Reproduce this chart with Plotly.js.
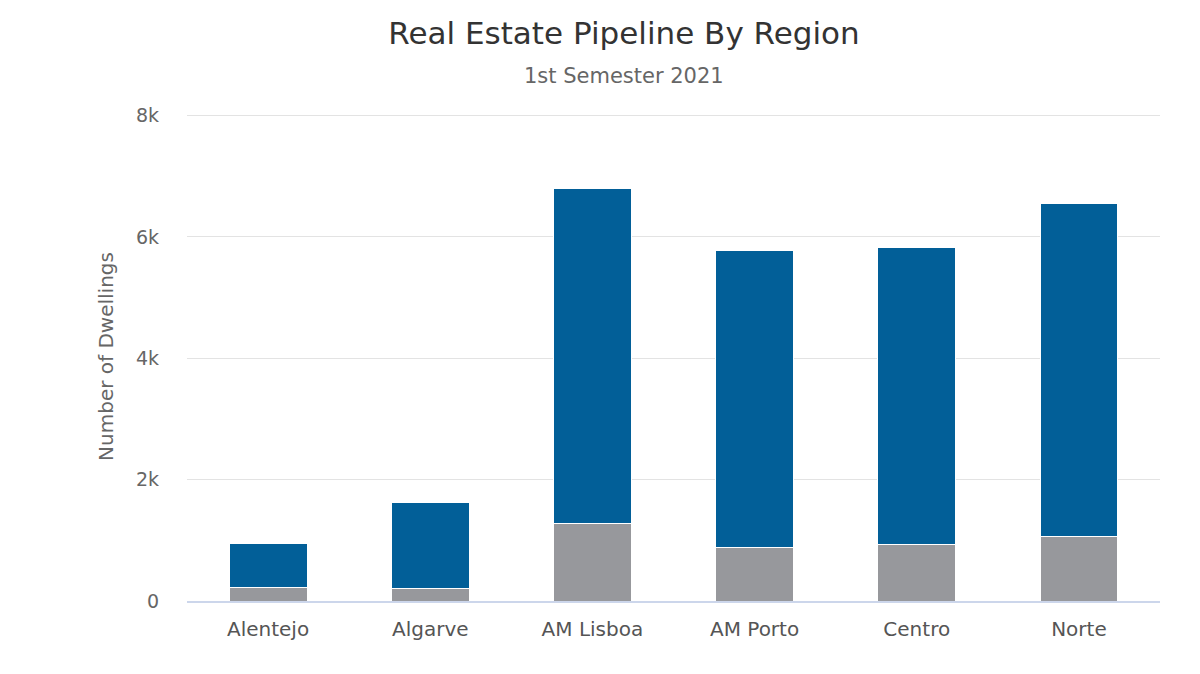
<!DOCTYPE html>
<html>
<head>
<meta charset="utf-8">
<script src="https://cdn.plot.ly/plotly-3.0.1.min.js"></script>
<style>html,body{margin:0;padding:0;background:#fff;}#chart{width:1200px;height:674px;}</style>
</head>
<body>
<div id="chart"></div>
<script>
const regions = ["Alentejo", "Algarve", "AM Lisboa", "AM Porto", "Centro", "Norte"];
const grayValues = [230, 200, 1270, 880, 935, 1065];
const blueValues = [725, 1425, 5530, 4890, 4895, 5495];
const yTickVals = [0, 2000, 4000, 6000, 8000];
const yTickText = ["0", "2k", "4k", "6k", "8k"];

const font = "DejaVu Sans, Verdana, sans-serif";

const traces = [
  {
    type: "bar", x: regions, y: grayValues, name: "Under construction",
    marker: {color: "#97989c", line: {color: "#ffffff", width: 1}},
    hoverinfo: "x+y"
  },
  {
    type: "bar", x: regions, y: blueValues, name: "Licensed",
    marker: {color: "#025f98", line: {color: "#ffffff", width: 1}},
    hoverinfo: "x+y"
  }
];

const layout = {
  width: 1200, height: 674,
  barmode: "stack",
  bargap: 0.52,
  showlegend: false,
  paper_bgcolor: "#ffffff",
  plot_bgcolor: "#ffffff",
  margin: {l: 187, r: 40, t: 112, b: 73, pad: 0},
  font: {family: font, color: "#666666"},
  title: {
    text: "Real Estate Pipeline By Region",
    font: {family: font, size: 31, color: "#333333"},
    x: 0.52, xanchor: "center", y: 0.951, yanchor: "middle", yref: "container"
  },
  annotations: [{
    text: "1st Semester 2021", xref: "paper", yref: "paper",
    x: 0.449, y: 1, yshift: 36, xanchor: "center", yanchor: "middle",
    showarrow: false, font: {family: font, size: 21, color: "#666666"}
  }],
  xaxis: {
    type: "category",
    showline: true, linecolor: "#ccd6eb", linewidth: 2,
    showgrid: false, ticks: "", zeroline: false,
    tickfont: {family: font, size: 20, color: "#555555"},
    ticklabelstandoff: 9
  },
  yaxis: {
    range: [0, 8060],
    tickvals: yTickVals, ticktext: yTickText,
    showgrid: true, gridcolor: "#e3e3e3", gridwidth: 1,
    zeroline: false, showline: false, ticks: "",
    tickfont: {family: font, size: 19, color: "#666666"},
    ticklabelstandoff: 27,
    title: {text: "Number of Dwellings", font: {family: font, size: 20, color: "#666666"}, standoff: 16}
  }
};

Plotly.newPlot("chart", traces, layout, {displayModeBar: false, staticPlot: true});
</script>
</body>
</html>
